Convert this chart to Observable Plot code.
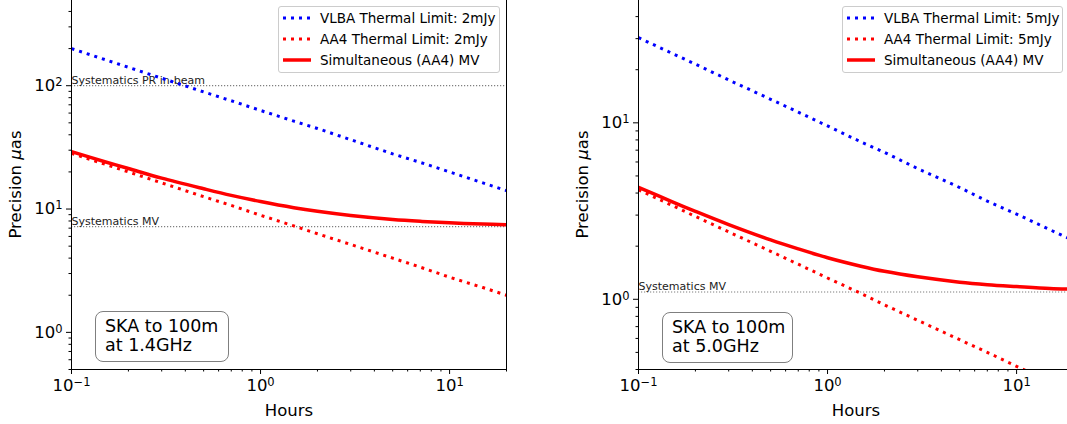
<!DOCTYPE html>
<html>
<head>
<meta charset="utf-8">
<script src="https://cdn.jsdelivr.net/npm/d3@7"></script>
<script src="https://cdn.jsdelivr.net/npm/@observablehq/plot@0.6"></script>
<style>
  html, body { margin: 0; padding: 0; background: #fff; }
  body { width: 1067px; height: 424px; overflow: hidden; position: relative; font-family: "DejaVu Sans", sans-serif; }
  .panel { position: absolute; top: -1px; }
  .legend { position: absolute; box-sizing: border-box; background: rgba(255,255,255,0.8); border: 1px solid #cccccc; border-radius: 3px; font-size: 13.5px; color: #000; }
  .legend .row { height: 21px; display: flex; align-items: center; padding-left: 4px; white-space: nowrap; }
  .legend svg { margin-right: 9px; flex: none; }
  .note { position: absolute; box-sizing: border-box; background: #fff; border: 1px solid #7f7f7f; border-radius: 8px; font-size: 17.5px; line-height: 19px; color: #000; padding-top: 5px; white-space: nowrap; }
</style>
</head>
<body>
<script>
// Integration time (hours) at which each curve is sampled
const hours = [0.1, 0.15, 0.2, 0.3, 0.5, 0.7, 1, 1.5, 2, 3, 5, 7, 10, 15, 20];

// 1.4 GHz panel: astrometric precision (µas)
const vlba2mJy = [200, 163, 141, 115, 89, 75.5, 63, 51.6, 45, 36.5, 28, 23.9, 20, 16.3, 14.1];
const aa4_2mJy = [28.3, 23.1, 20.0, 16.3, 12.6, 10.7, 8.9, 7.3, 6.3, 5.16, 4.0, 3.38, 2.8, 2.31, 2.0];
const mv_1p4 = [29.2, 24.2, 21.3, 17.8, 14.6, 12.9, 11.5, 10.25, 9.58, 8.86, 8.23, 7.95, 7.73, 7.56, 7.47];
const sysPRinBeam_1p4 = 100;
const sysMV_1p4 = 7.2;

// 5.0 GHz panel: astrometric precision (µas)
const vlba5mJy = [30.4, 24.8, 21.5, 17.5, 13.6, 11.5, 9.6, 7.8, 6.8, 5.5, 4.3, 3.6, 3.04, 2.48, 2.15];
const aa4_5mJy = [4.17, 3.41, 2.95, 2.41, 1.87, 1.58, 1.32, 1.08, 0.93, 0.76, 0.59, 0.50, 0.417, 0.341, 0.295];
const mv_5p0 = [4.31, 3.58, 3.15, 2.65, 2.17, 1.93, 1.72, 1.54, 1.44, 1.34, 1.25, 1.21, 1.18, 1.15, 1.14];
const sysMV_5p0 = 1.1;

// Axis ticks
const xMajor = [0.1, 1, 10];
const xMinor = [0.2, 0.3, 0.4, 0.5, 0.6, 0.7, 0.8, 0.9, 2, 3, 4, 5, 6, 7, 8, 9, 20];

// Tick labels are written as "10|exp" and turned into a base + superscript below
const pow10 = d => "10|" + String(Math.round(Math.log10(d))).replace("-", "−");

function minorTicks(lo, hi) {
  const out = [];
  for (let e = -2; e <= 3; e++) for (let m = 2; m < 10; m++) {
    const v = m * Math.pow(10, e);
    if (v >= lo && v <= hi) out.push(v);
  }
  return out;
}

function panel({yDomain, yMajor, vlba, aa4, mv, systematics}) {
  const rows = (vals) => hours.map((h, i) => ({h, v: vals[i]}));
  const dotted = {strokeWidth: 3, strokeDasharray: "3,5", strokeLinecap: "butt", clip: true};
  const svg = Plot.plot({
    width: 516,
    height: 425,
    marginLeft: 71,
    marginRight: 10,
    marginTop: 0,
    marginBottom: 55,
    style: {fontFamily: "DejaVu Sans", fontSize: "17px", color: "#000", background: "transparent", overflow: "visible"},
    x: {type: "log", domain: [0.1, 20]},
    y: {type: "log", domain: yDomain},
    marks: [
      Plot.ruleY(systematics, {y: "v", stroke: "#7f7f7f", strokeWidth: 1.2, strokeDasharray: "1.2,1.8"}),
      Plot.text(systematics, {x: 0.1, y: "v", text: "label", textAnchor: "start", lineAnchor: "bottom", dy: -2, fontSize: 11, fill: "#222"}),
      Plot.line(rows(vlba), {x: "h", y: "v", stroke: "#0000ff", ...dotted}),
      Plot.line(rows(aa4), {x: "h", y: "v", stroke: "#ff0000", ...dotted}),
      Plot.line(rows(mv), {x: "h", y: "v", stroke: "#ff0000", strokeWidth: 3.5, curve: "catmull-rom", clip: true}),
      Plot.axisX(xMinor, {tickSize: 2.5, tickFormat: () => "", label: null}),
      Plot.axisX(xMajor, {tickSize: 5, tickPadding: 5, tickFormat: pow10, fontSize: 16.5, label: "Hours", labelAnchor: "center", labelArrow: "none", labelOffset: 46}),
      Plot.axisY(minorTicks(yDomain[0], yDomain[1]), {tickSize: 2.5, tickFormat: () => "", label: null}),
      Plot.axisY(yMajor, {tickSize: 5, tickPadding: 4, tickFormat: pow10, fontSize: 16.5, label: "Precision μas", labelAnchor: "center", labelArrow: "none", labelOffset: 62}),
      Plot.frame({stroke: "#000", strokeWidth: 1})
    ]
  });
  // power-of-ten tick labels with a raised exponent
  svg.querySelectorAll("text").forEach(t => {
    const s = t.textContent;
    if (/^10\|/.test(s)) {
      const exp = s.split("|")[1];
      t.innerHTML = `10<tspan dy="-0.42em" font-size="11.5">${exp}</tspan>`;
    } else if (s === "Precision μas") {
      t.innerHTML = `Precision <tspan font-style="italic">μ</tspan>as`;
    }
  });
  return svg;
}

const left = panel({
  yDomain: [0.5, 500], yMajor: [1, 10, 100],
  vlba: vlba2mJy, aa4: aa4_2mJy, mv: mv_1p4,
  systematics: [{v: sysPRinBeam_1p4, label: "Systematics PR in-beam"}, {v: sysMV_1p4, label: "Systematics MV"}]
});
left.classList.add("panel");
left.style.left = "0px";
document.body.appendChild(left);

const right = panel({
  yDomain: [0.4, 50], yMajor: [1, 10],
  vlba: vlba5mJy, aa4: aa4_5mJy, mv: mv_5p0,
  systematics: [{v: sysMV_5p0, label: "Systematics MV"}]
});
right.classList.add("panel");
right.style.left = "567px";
document.body.appendChild(right);

function sample(color, dash, width) {
  return `<svg width="28" height="8"><line x1="0" y1="4" x2="28" y2="4" stroke="${color}" stroke-width="${width}" ${dash ? `stroke-dasharray="${dash}"` : ""}/></svg>`;
}

function legend(x, w, mJy) {
  const d = document.createElement("div");
  d.className = "legend";
  d.style.left = x + "px";
  d.style.top = "6px";
  d.style.width = w + "px";
  d.style.height = "67px";
  d.innerHTML =
    `<div class="row">${sample("#0000ff", "3,5", 3)}<span>VLBA Thermal Limit: ${mJy}mJy</span></div>` +
    `<div class="row">${sample("#ff0000", "3,5", 3)}<span>AA4 Thermal Limit: ${mJy}mJy</span></div>` +
    `<div class="row">${sample("#ff0000", null, 3.5)}<span>Simultaneous (AA4) MV</span></div>`;
  document.body.appendChild(d);
}
legend(278, 222, 2);
legend(842, 221, 5);

function note(x, y, w, freq) {
  const d = document.createElement("div");
  d.className = "note";
  d.style.left = x + "px";
  d.style.top = y + "px";
  d.style.width = w + "px";
  d.style.height = "51px";
  d.style.paddingLeft = "9px";
  d.innerHTML = `SKA to 100m<br>at ${freq}`;
  document.body.appendChild(d);
}
note(95, 311, 134, "1.4GHz");
note(662, 312, 131, "5.0GHz");
</script>
</body>
</html>
